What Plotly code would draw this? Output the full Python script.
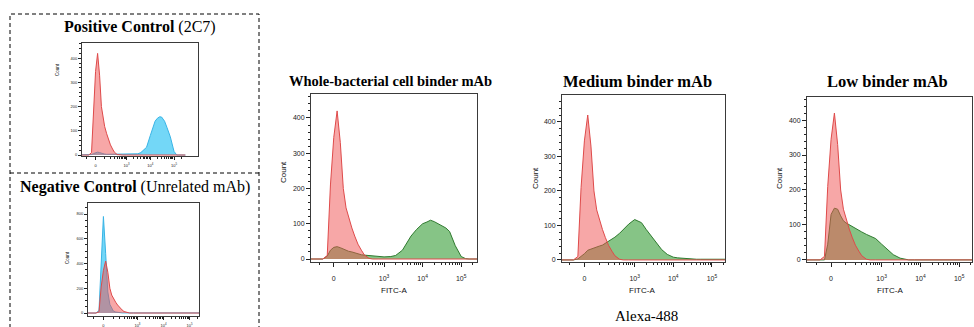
import numpy as np
import plotly.graph_objects as go

W, H = 974, 327

# ---------------- data (FITC-A bin centres and counts) -------------
fitc_bins = [-300, -200, -150, -100, -70, -40, -20, 0, 20, 40,
             60, 80, 100, 130, 160, 200, 250, 300, 400, 500,
             700, 1000, 1500, 2000, 3000, 4000, 5000, 7000, 10000, 13000,
             16000, 20000, 25000, 30000, 40000, 50000, 70000, 100000, 130000, 160000,
             200000, 300000]

isotype_ctrl = [0, 0, 0, 0, 0, 10, 210, 345, 420, 330,
                200, 145, 118, 88, 65, 42, 25, 12, 2, 0,
                0, 0, 0, 0, 0, 0, 0, 0, 0, 0,
                0, 0, 0, 0, 0, 0, 0, 0, 0, 0,
                0, 0]

positive_2c7 = [0, 0, 0, 0, 0, 2, 6, 10, 12, 10,
                7, 5, 4, 3, 3, 3, 3, 3, 3, 3,
                3, 3, 4, 5, 5, 10, 20, 32, 80, 112,
                140, 152, 158, 157, 140, 115, 75, 15, 0, 0,
                0, 0]

negative_unrelated = [0, 0, 0, 0, 0, 20, 450, 780, 480, 170,
                      70, 35, 15, 8, 4, 2, 1, 1, 1, 1,
                      1, 1, 1, 1, 1, 1, 1, 1, 1, 1,
                      1, 1, 1, 1, 1, 1, 1, 1, 1, 1,
                      1, 1]

whole_cell_binder = [0, 0, 0, 0, 0, 8, 25, 33, 35, 32,
                     28, 25, 22, 20, 17, 15, 12, 11, 10, 8,
                     7, 6, 7, 10, 25, 48, 65, 84, 100, 105,
                     110, 106, 100, 95, 88, 78, 38, 7, 1, 0,
                     0, 0]

medium_binder = [0, 0, 0, 0, 0, 3, 10, 18, 28, 32,
                 35, 38, 40, 43, 48, 54, 60, 66, 77, 88,
                 104, 117, 108, 88, 62, 42, 30, 16, 8, 6,
                 5, 4, 3, 3, 2, 2, 2, 2, 2, 2,
                 2, 2]

low_binder = [0, 0, 0, 0, 0, 0, 45, 130, 148, 145,
              126, 112, 106, 100, 95, 90, 84, 80, 73, 69,
              61, 45, 28, 15, 5, 1, 0, 0, 0, 0,
              0, 0, 0, 0, 0, 0, 0, 0, 0, 0,
              0, 0]

major_ticks = [0, 1e3, 1e4, 1e5]
major_tick_text = ['0', '10<sup>3</sup>', '10<sup>4</sup>', '10<sup>5</sup>']
minor_ticks = [-300, -200, -100, 100, 200, 300, 400, 500, 600, 700, 800, 900,
               2000, 3000, 4000, 5000, 6000, 7000, 8000, 9000,
               20000, 30000, 40000, 50000, 60000, 70000, 80000, 90000, 200000]


def logicle(v):
    """biexponential-like display transform (FlowJo style)"""
    return np.arcsinh(np.asarray(v, dtype=float) / 100.0) / np.log(10)


def px(p):
    return p / W


def py(p):
    return 1 - p / H


RED_LINE, RED_FILL = '#df4a4a', 'rgba(240,80,80,0.5)'
GREEN_LINE, GREEN_FILL = '#2f7a2f', 'rgba(60,160,60,0.62)'
BLUE_LINE, BLUE_FILL = '#38b4e6', 'rgba(80,205,245,0.8)'

SANS = 'Liberation Sans, Arial, sans-serif'
SERIF = 'Liberation Serif, Times New Roman, serif'

panels = [
    dict(x=(82, 198), y=(43, 156), xr=(-0.57, 4.31), yr=(-4, 463), ymaj=100, ymin=20, small=True,
         series=[(positive_2c7, BLUE_LINE, BLUE_FILL), (isotype_ctrl, RED_LINE, RED_FILL)],
         count=(58, 70)),
    dict(x=(88, 199), y=(203, 316), xr=(-0.59, 3.66), yr=(-24, 889), ymaj=200, ymin=50, small=True,
         series=[(negative_unrelated, BLUE_LINE, BLUE_FILL), (isotype_ctrl, RED_LINE, RED_FILL)],
         count=(67, 258)),
    dict(x=(311, 477), y=(94, 262), xr=(-0.59, 3.71), yr=(-8.5, 468), ymaj=100, ymin=20, small=False,
         series=[(whole_cell_binder, GREEN_LINE, GREEN_FILL), (isotype_ctrl, RED_LINE, RED_FILL)],
         count=(283, 172), fitc=(394, 290)),
    dict(x=(562, 725), y=(95, 262), xr=(-0.58, 3.64), yr=(-6, 478), ymaj=100, ymin=20, small=False,
         series=[(medium_binder, GREEN_LINE, GREEN_FILL), (isotype_ctrl, RED_LINE, RED_FILL)],
         count=(535, 178), fitc=(642, 290)),
    dict(x=(807, 972), y=(97, 262), xr=(-0.62, 3.63), yr=(-6, 466), ymaj=100, ymin=20, small=False,
         series=[(low_binder, GREEN_LINE, GREEN_FILL), (isotype_ctrl, RED_LINE, RED_FILL)],
         count=(779, 178), fitc=(890, 290)),
]

fig = go.Figure()
annotations = []
xd = logicle(fitc_bins)

for i, p in enumerate(panels, start=1):
    xa = 'x' if i == 1 else f'x{i}'
    ya = 'y' if i == 1 else f'y{i}'
    for counts, lc, fc in p['series']:
        fig.add_trace(go.Scatter(x=xd, y=counts, xaxis=xa, yaxis=ya, mode='lines',
                                 line=dict(color=lc, width=1), fill='tozeroy', fillcolor=fc,
                                 hoverinfo='skip', showlegend=False))
    tfs = 4 if p['small'] else 7
    ymax = p['yr'][1]
    axis_common = dict(showline=True, linecolor='#3a3a3a', linewidth=1, mirror=True,
                       showgrid=False, zeroline=False, ticks='outside', tickcolor='#222',
                       tickwidth=1, tickfont=dict(family=SANS, size=tfs, color='#222'))
    xaxis = dict(axis_common, domain=[px(p['x'][0]), px(p['x'][1])], range=list(p['xr']),
                 anchor=ya, tickmode='array', tickvals=logicle(major_ticks).tolist(),
                 ticktext=major_tick_text, ticklen=3 if p['small'] else 4,
                 ticklabelstandoff=2 if p['small'] else 6,
                 minor=dict(tickmode='array', tickvals=logicle(minor_ticks).tolist(),
                            ticks='outside', ticklen=2, tickcolor='#222', tickwidth=1))
    ytv = list(range(0, int(ymax), p['ymaj']))
    yaxis = dict(axis_common, domain=[py(p['y'][1]), py(p['y'][0])], range=list(p['yr']),
                 anchor=xa, tickmode='array', tickvals=ytv, ticktext=[str(v) for v in ytv],
                 ticklen=3 if p['small'] else 4,
                 minor=dict(dtick=p['ymin'], tick0=0, ticks='outside', ticklen=2,
                            tickcolor='#222', tickwidth=1))
    key = '' if i == 1 else str(i)
    fig.layout['xaxis' + key] = xaxis
    fig.layout['yaxis' + key] = yaxis

    cx, cy = p['count']
    annotations.append(dict(x=px(cx), y=py(cy), xref='paper', yref='paper', text='Count',
                            textangle=-90, showarrow=False, xanchor='center', yanchor='middle',
                            font=dict(family=SANS, size=4.5 if p['small'] else 8, color='#111')))
    if 'fitc' in p:
        fx, fy = p['fitc']
        annotations.append(dict(x=px(fx), y=py(fy), xref='paper', yref='paper', text='FITC-A',
                                showarrow=False, xanchor='center', yanchor='middle',
                                font=dict(family=SANS, size=8, color='#111')))

titles = [
    ('<b>Positive Control</b> (2C7)', 140, 27, 16),
    ('<b>Negative Control</b> (Unrelated mAb)', 135, 187, 16),
    ('<b>Whole-bacterial cell binder mAb</b>', 390, 81, 14.5),
    ('<b>Medium binder mAb</b>', 637, 82, 16.5),
    ('<b>Low binder mAb</b>', 887, 82, 16.5),
    ('Alexa-488', 646, 316, 15),
]
for text, tx, ty, fs in titles:
    annotations.append(dict(x=px(tx), y=py(ty), xref='paper', yref='paper', text=text,
                            showarrow=False, xanchor='center', yanchor='middle',
                            font=dict(family=SERIF, size=fs, color='#000')))

shapes = [
    dict(type='rect', xref='paper', yref='paper', x0=px(10), x1=px(259), y0=py(340), y1=py(14),
         line=dict(color='#000', width=1, dash='4px,3px'), fillcolor='rgba(0,0,0,0)', layer='below'),
    dict(type='line', xref='paper', yref='paper', x0=px(10), x1=px(259), y0=py(173), y1=py(173),
         line=dict(color='#000', width=1, dash='4px,3px')),
]

fig.update_layout(width=W, height=H, margin=dict(l=0, r=0, t=0, b=0),
                  paper_bgcolor='white', plot_bgcolor='white',
                  annotations=annotations, shapes=shapes, showlegend=False)

fig.write_html('out.html', config={'displayModeBar': False})
